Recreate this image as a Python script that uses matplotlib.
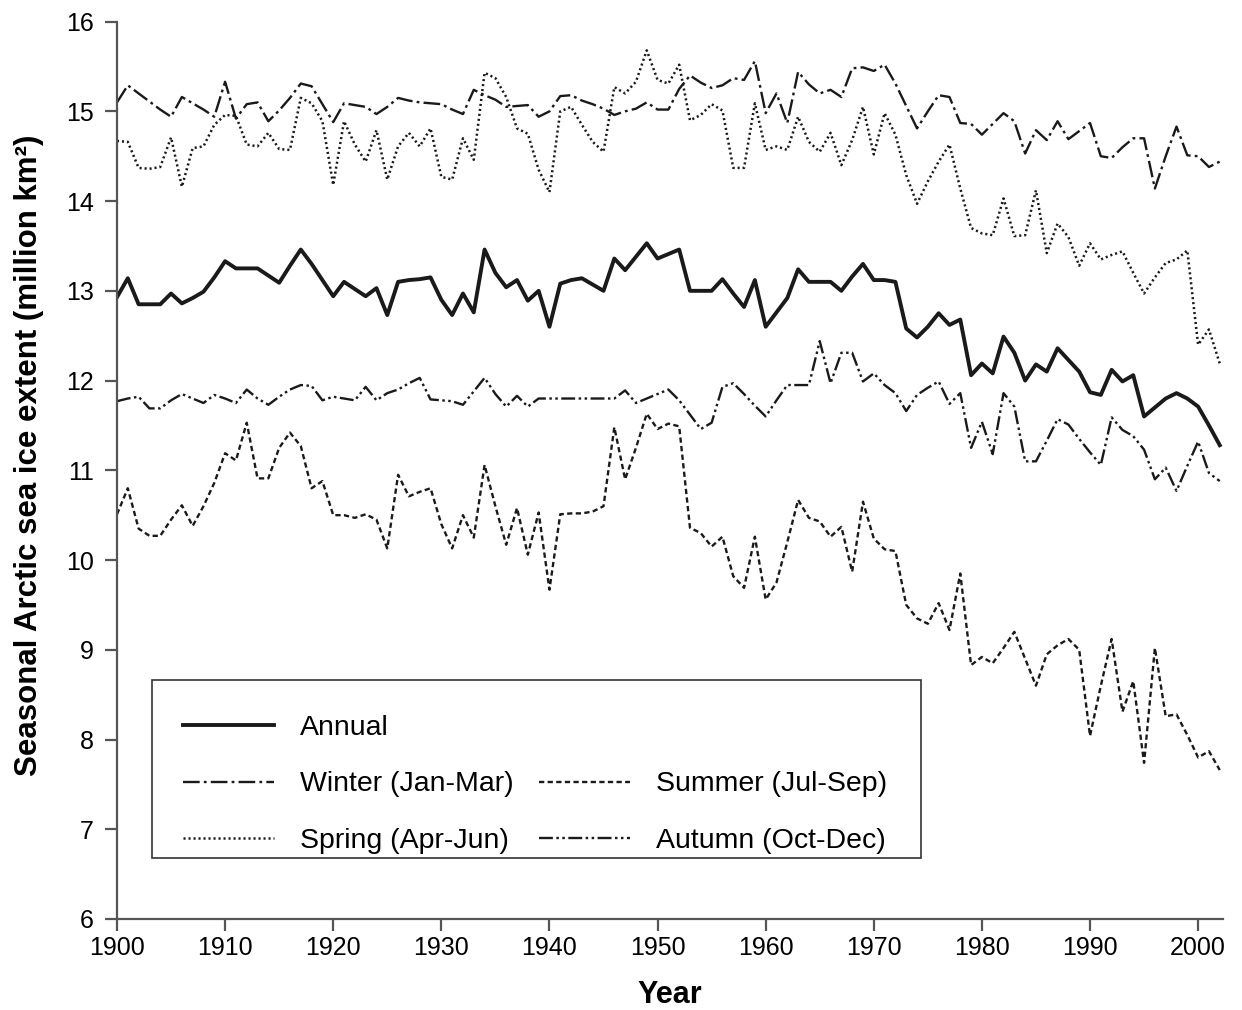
import numpy as np
import matplotlib.pyplot as plt
from matplotlib.lines import Line2D
from matplotlib.patches import Rectangle

plt.rcParams['font.family'] = ['Liberation Sans', 'DejaVu Sans']
plt.rcParams['lines.scale_dashes'] = False

years = np.arange(1900, 2003)

annual = [12.93, 13.14, 12.85, 12.85, 12.85, 12.97, 12.86, 12.92, 12.99, 13.15,
          13.33, 13.25, 13.25, 13.25, 13.17, 13.09, 13.28, 13.46, 13.30, 13.12,
          12.94, 13.10, 13.02, 12.94, 13.03, 12.73, 13.10, 13.12, 13.13, 13.15,
          12.90, 12.73, 12.97, 12.76, 13.46, 13.20, 13.04, 13.12, 12.89, 13.00,
          12.60, 13.08, 13.12, 13.14, 13.07, 13.00, 13.36, 13.23, 13.38, 13.53,
          13.36, 13.41, 13.46, 13.00, 13.00, 13.00, 13.13, 12.97, 12.82, 13.12,
          12.60, 12.76, 12.92, 13.24, 13.10, 13.10, 13.10, 13.00, 13.16, 13.30,
          13.12, 13.12, 13.10, 12.58, 12.48, 12.60, 12.75, 12.62, 12.68, 12.06,
          12.19, 12.08, 12.49, 12.31, 12.00, 12.18, 12.10, 12.36, 12.23, 12.10,
          11.87, 11.84, 12.12, 11.99, 12.06, 11.60, 11.70, 11.80, 11.86, 11.80,
          11.71, 11.50, 11.28]

winter = [15.10, 15.29, 15.20, 15.11, 15.02, 14.94, 15.16, 15.09, 15.02, 14.94,
          15.33, 14.92, 15.08, 15.10, 14.89, 15.01, 15.15, 15.31, 15.28, 15.08,
          14.88, 15.09, 15.07, 15.05, 14.97, 15.05, 15.15, 15.12, 15.10, 15.09,
          15.08, 15.02, 14.97, 15.24, 15.18, 15.13, 15.05, 15.06, 15.07, 14.94,
          15.00, 15.17, 15.18, 15.12, 15.08, 15.03, 14.96, 15.00, 15.03, 15.10,
          15.02, 15.02, 15.25, 15.40, 15.32, 15.26, 15.29, 15.37, 15.35, 15.56,
          14.98, 15.20, 14.87, 15.44, 15.30, 15.20, 15.24, 15.16, 15.48, 15.49,
          15.45, 15.52, 15.31, 15.06, 14.81, 15.00, 15.18, 15.16, 14.87, 14.86,
          14.74, 14.86, 14.98, 14.89, 14.53, 14.79, 14.68, 14.89, 14.69, 14.78,
          14.87, 14.50, 14.48, 14.60, 14.70, 14.70, 14.14, 14.50, 14.83, 14.51,
          14.50, 14.38, 14.44]

spring = [14.67, 14.66, 14.37, 14.36, 14.38, 14.71, 14.16, 14.59, 14.61, 14.85,
          14.96, 14.95, 14.63, 14.61, 14.76, 14.58, 14.57, 15.15, 15.09, 14.89,
          14.18, 14.89, 14.63, 14.44, 14.79, 14.24, 14.61, 14.76, 14.61, 14.81,
          14.27, 14.24, 14.70, 14.46, 15.43, 15.37, 15.16, 14.81, 14.75, 14.35,
          14.10, 15.00, 15.05, 14.85, 14.66, 14.55, 15.27, 15.20, 15.33, 15.68,
          15.35, 15.31, 15.52, 14.90, 14.96, 15.08, 15.01, 14.37, 14.37, 15.09,
          14.57, 14.61, 14.57, 14.94, 14.66, 14.55, 14.76, 14.40, 14.68, 15.05,
          14.52, 14.98, 14.74, 14.29, 13.97, 14.22, 14.44, 14.63, 14.14, 13.70,
          13.64, 13.62, 14.03, 13.61, 13.62, 14.12, 13.42, 13.75, 13.60, 13.28,
          13.53, 13.35, 13.40, 13.44, 13.20, 12.97, 13.15, 13.31, 13.35, 13.45,
          12.40, 12.57, 12.19]

summer = [10.51, 10.80, 10.35, 10.27, 10.27, 10.45, 10.61, 10.38, 10.60, 10.86,
          11.19, 11.11, 11.53, 10.91, 10.91, 11.25, 11.42, 11.27, 10.80, 10.88,
          10.50, 10.50, 10.47, 10.51, 10.45, 10.13, 10.95, 10.71, 10.76, 10.80,
          10.40, 10.13, 10.50, 10.25, 11.06, 10.60, 10.17, 10.58, 10.06, 10.53,
          9.67, 10.51, 10.52, 10.52, 10.54, 10.60, 11.48, 10.90, 11.25, 11.63,
          11.46, 11.52, 11.49, 10.36, 10.30, 10.15, 10.26, 9.82, 9.69, 10.26,
          9.56, 9.75, 10.20, 10.67, 10.47, 10.43, 10.26, 10.37, 9.87, 10.65,
          10.24, 10.12, 10.10, 9.50, 9.35, 9.29, 9.52, 9.22, 9.85, 8.83,
          8.92, 8.85, 9.02, 9.20, 8.90, 8.60, 8.95, 9.05, 9.12, 9.00,
          8.04, 8.60, 9.12, 8.31, 8.65, 7.74, 9.02, 8.26, 8.28, 8.05,
          7.80, 7.87, 7.66]

autumn = [11.77, 11.80, 11.82, 11.69, 11.69, 11.78, 11.85, 11.80, 11.75, 11.84,
          11.80, 11.75, 11.90, 11.80, 11.73, 11.82, 11.90, 11.95, 11.94, 11.78,
          11.82, 11.80, 11.78, 11.93, 11.78, 11.86, 11.90, 11.97, 12.03, 11.79,
          11.78, 11.77, 11.73, 11.88, 12.03, 11.85, 11.71, 11.83, 11.71, 11.80,
          11.80, 11.80, 11.80, 11.80, 11.80, 11.80, 11.80, 11.89, 11.75, 11.80,
          11.85, 11.90, 11.78, 11.62, 11.46, 11.53, 11.93, 11.97, 11.85, 11.72,
          11.60, 11.78, 11.95, 11.95, 11.95, 12.44, 11.97, 12.31, 12.31, 11.99,
          12.08, 11.95, 11.86, 11.66, 11.84, 11.92, 11.99, 11.74, 11.86, 11.25,
          11.54, 11.18, 11.86, 11.71, 11.10, 11.10, 11.33, 11.57, 11.51, 11.35,
          11.20, 11.06, 11.59, 11.45, 11.38, 11.23, 10.90, 11.03, 10.77, 11.05,
          11.32, 10.97, 10.88]

ink = '#1a1a1a'
styles = {
    'Annual': dict(color=ink, lw=2.8, linestyle='-'),
    'Winter (Jan-Mar)': dict(color=ink, lw=1.7, linestyle=(0, (12, 3, 2, 3))),
    'Spring (Apr-Jun)': dict(color=ink, lw=1.8, linestyle=(0, (1.5, 2.1))),
    'Summer (Jul-Sep)': dict(color=ink, lw=1.7, linestyle=(0, (3.8, 2.4))),
    'Autumn (Oct-Dec)': dict(color=ink, lw=1.7, linestyle=(0, (10, 2.5, 1.8, 2.5, 1.8, 2.5))),
}

fig = plt.figure(figsize=(12.42, 10.10), dpi=100)
ax = fig.add_axes([0.0942, 0.0901, 0.8905, 0.8885])

lines = {}
for name, vals in [('Winter (Jan-Mar)', winter), ('Spring (Apr-Jun)', spring),
                   ('Autumn (Oct-Dec)', autumn), ('Summer (Jul-Sep)', summer),
                   ('Annual', annual)]:
    lines[name], = ax.plot(years, vals, label=name, **styles[name])

ax.set_xlim(1900, 2002.3)
ax.set_ylim(6, 16)
ax.set_xticks(np.arange(1900, 2001, 10))
ax.set_yticks(np.arange(6, 17, 1))

for s in ['top', 'right']:
    ax.spines[s].set_visible(False)
for s in ['left', 'bottom']:
    ax.spines[s].set_color('#555555')
    ax.spines[s].set_linewidth(1.6)
ax.tick_params(axis='both', direction='out', length=8.5, width=1.6, color='#555555',
               labelsize=18, labelcolor='black')
ax.tick_params(axis='y', pad=8)
ax.tick_params(axis='x', pad=4)

ax.set_xlabel('Year', fontsize=22, fontweight='bold', labelpad=14)
ax.set_ylabel('Seasonal Arctic sea ice extent (million km²)', fontsize=22.5,
              fontweight='bold')
ax.yaxis.set_label_coords(-0.066, 0.517)

# legend box: square frame with more room on top than at the bottom
ax.add_patch(Rectangle((0.0316, 0.068), 0.6954, 0.1983, transform=ax.transAxes,
                       facecolor='white', edgecolor='#333333', lw=1.2,
                       clip_on=False, zorder=4))

blank = Line2D([], [], linestyle='none')
handles = [lines['Annual'], lines['Winter (Jan-Mar)'], lines['Spring (Apr-Jun)'],
           blank, lines['Summer (Jul-Sep)'], lines['Autumn (Oct-Dec)']]
labels = ['Annual', 'Winter (Jan-Mar)', 'Spring (Apr-Jun)',
          '', 'Summer (Jul-Sep)', 'Autumn (Oct-Dec)']
leg = ax.legend(handles, labels, ncol=2, loc='upper left',
                bbox_to_anchor=(0.0597, 0.2273), fontsize=20.5,
                frameon=False, handlelength=3.2, handletextpad=0.9,
                columnspacing=0.9, labelspacing=1.07, borderpad=0,
                borderaxespad=0)
leg.set_zorder(5)

fig.savefig('out.png', dpi=100)
